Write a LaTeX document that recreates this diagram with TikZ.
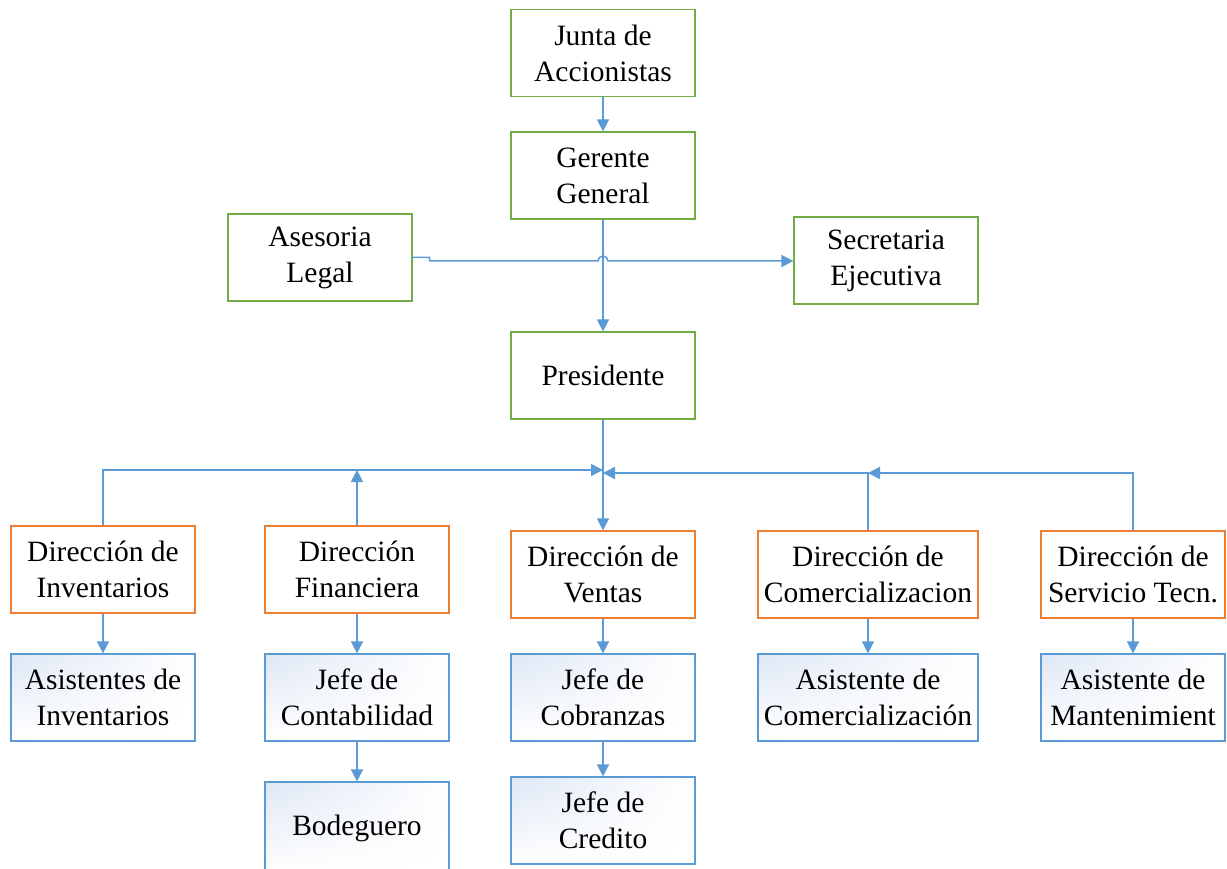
\documentclass[tikz,border=0pt]{standalone}
\usepackage{fontspec}
\setmainfont{Liberation Serif}
\usetikzlibrary{arrows.meta,shadings}
\definecolor{gbord}{RGB}{112,173,71}
\definecolor{obord}{RGB}{237,125,49}
\definecolor{bbord}{RGB}{91,155,213}
\definecolor{conn}{RGB}{91,155,213}
\definecolor{shadeblue}{RGB}{222,231,245}
\begin{document}
\begin{tikzpicture}[x=1pt,y=-1pt,
  box/.style={rectangle, line width=1.2pt, minimum width=184pt, minimum height=87pt,
    inner sep=0pt, align=center, font=\fontsize{29.5}{36}\selectfont},
  gbox/.style={box, draw=gbord},
  obox/.style={box, draw=obord},
  bbox/.style={box, draw=bbord, upper left=shadeblue, upper right=white, lower left=white, lower right=white},
  link/.style={draw=conn, line width=1.5pt, -{Triangle[length=12pt,width=12pt]}}
]
\clip (0,0) rectangle (1227,869);
\fill[white] (0,0) rectangle (1227,869);

% top levels
\node[gbox] (junta) at (603,53) {Junta de\\Accionistas};
\node[gbox] (gerente) at (603,175.5) {Gerente\\General};
\node[gbox] (asesoria) at (320,257.5) {Asesoria\\Legal};
\node[gbox] (secretaria) at (886,260.5) {Secretaria\\Ejecutiva};
\node[gbox] (pres) at (603,375.5) {Presidente};

% direcciones
\node[obox] (dinv) at (103,569.5) {Dirección de\\Inventarios};
\node[obox] (dfin) at (357,569.5) {Dirección\\Financiera};
\node[obox] (dven) at (603,574.5) {Dirección de\\Ventas};
\node[obox, minimum width=220pt] (dcom) at (868,574.5) {Dirección de\\Comercializacion};
\node[obox] (dserv) at (1133,574.5) {Dirección de\\Servicio Tecn.};

% sub boxes
\node[bbox] (ainv) at (103,697.5) {Asistentes de\\Inventarios};
\node[bbox] (jcont) at (357,697.5) {Jefe de\\Contabilidad};
\node[bbox, minimum height=92pt] (bod) at (357,828) {Bodeguero};
\node[bbox] (jcob) at (603,697.5) {Jefe de\\Cobranzas};
\node[bbox] (jcred) at (603,820.5) {Jefe de\\Credito};
\node[bbox, minimum width=220pt] (acom) at (868,697.5) {Asistente de\\Comercialización};
\node[bbox] (aman) at (1133,697.5) {Asistente de\\Mantenimient};

% connectors
\draw[link] (junta) -- (gerente);
\draw[link] (gerente) -- (pres);
\draw[link] (asesoria.east) -- ++(17,0) -- ++(0,3.5) -- (598,261) arc (180:360:5) -- (secretaria.west |- 0,261);

\coordinate (hubL) at (603,470);
\coordinate (hubR) at (603,473);
\draw[link] (pres) -- (dven);
\draw[link] (dinv.north) |- (hubL);
\draw[link] (dfin.north) -- (dfin.north |- hubL);
\draw[link] (dserv.north) |- (dcom.north |- hubR);
\draw[link] (dcom.north) |- (hubR);

\draw[link] (dinv) -- (ainv);
\draw[link] (dfin) -- (jcont);
\draw[link] (jcont) -- (bod);
\draw[link] (dven) -- (jcob);
\draw[link] (jcob) -- (jcred);
\draw[link] (dcom) -- (acom);
\draw[link] (dserv) -- (aman);
\end{tikzpicture}
\end{document}
